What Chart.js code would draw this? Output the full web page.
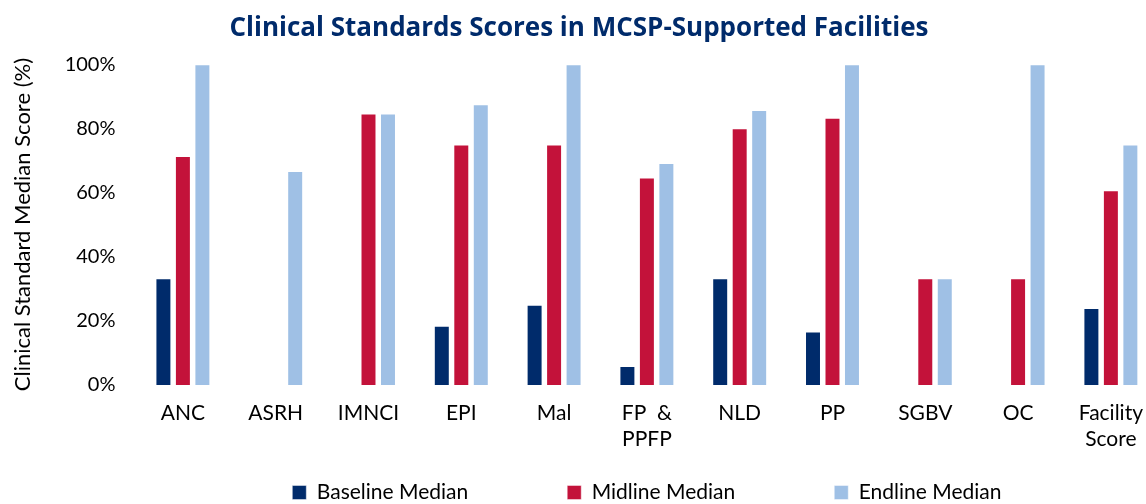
<!DOCTYPE html>
<html>
<head>
<meta charset="utf-8">
<script src="https://cdn.jsdelivr.net/npm/chart.js@4"></script>
<style>
  html, body { margin: 0; padding: 0; background: #fff; overflow: hidden; }
  #wrap { width: 1158px; height: 504px; }
</style>
</head>
<body>
<div id="wrap"><canvas id="myChart" width="1158" height="504"></canvas></div>
<script>
const categories = ['ANC', 'ASRH', 'IMNCI', 'EPI', 'Mal', ['FP  &', 'PPFP'], 'NLD', 'PP', 'SGBV', 'OC', ['Facility', 'Score']]
const baseline = [33.3, null, null, 18.5, 25, 5.9, 33.3, 16.7, null, null, 24]
const midline = [71.4, null, 84.6, 75, 75, 64.7, 80, 83.3, 33.3, 33.3, 60.7]
const endline = [100, 66.7, 84.6, 87.5, 100, 69.2, 85.7, 100, 33.3, 100, 75]
const seriesNames = ['Baseline Median', 'Midline Median', 'Endline Median']

const fontName = 'Lato'

// legend items are spread wide in the original, push the drawn row back up after layout
const legendShift = {
    id: 'legendShift',
    afterLayout(chart) {
        const lg = chart.legend
        lg.top = 482 - lg.options.labels.padding
    }
}

const ctx = document.getElementById('myChart')
const myChart = new Chart(ctx, {
    type: 'bar',
    data: {
        labels: categories,
        datasets: [
            { label: seriesNames[0], data: baseline, backgroundColor: '#002B6B', borderColor: 'rgba(255,255,255,0.45)', borderWidth: 1 },
            { label: seriesNames[1], data: midline, backgroundColor: '#C3123A', borderColor: 'rgba(255,255,255,0.45)', borderWidth: 1 },
            { label: seriesNames[2], data: endline, backgroundColor: '#9FC0E5', borderColor: 'rgba(255,255,255,0.45)', borderWidth: 1 }
        ]
    },
    options: {
        responsive: false,
        animation: false,
        categoryPercentage: 0.63,
        barPercentage: 0.82,
        layout: { padding: 0 },
        plugins: {
            title: {
                display: true,
                text: 'Clinical Standards Scores in MCSP-Supported Facilities',
                color: '#002B6B',
                font: { family: 'Open Sans', size: 26, weight: 'bold', lineHeight: 1.2 },
                padding: { top: 13, bottom: 20 }
            },
            legend: {
                position: 'bottom',
                fullSize: false,
                maxHeight: 54,
                labels: {
                    boxWidth: 14,
                    boxHeight: 14,
                    padding: 99,
                    color: '#000',
                    font: { family: fontName, size: 21 }
                }
            },
            tooltip: { enabled: false }
        },
        scales: {
            x: {
                grid: { display: false, drawTicks: false },
                border: { display: false },
                ticks: {
                    color: '#000',
                    padding: 15,
                    maxRotation: 0,
                    autoSkip: false,
                    font: { family: fontName, size: 21, lineHeight: 1.25 }
                },
                afterFit(scale) { scale.height = 65 }
            },
            y: {
                min: 0,
                max: 100,
                grid: { display: false, drawTicks: false },
                border: { display: false },
                ticks: {
                    stepSize: 20,
                    color: '#000',
                    padding: 21,
                    font: { family: fontName, size: 20 },
                    callback: v => v + '%'
                },
                title: {
                    display: true,
                    text: 'Clinical Standard Median Score (%)',
                    color: '#000',
                    font: { family: fontName, size: 22 },
                    padding: { top: 10, bottom: 0 }
                },
                afterFit(scale) { scale.width = 136.5 }
            }
        }
    },
    plugins: [legendShift]
})
</script>
</body>
</html>
